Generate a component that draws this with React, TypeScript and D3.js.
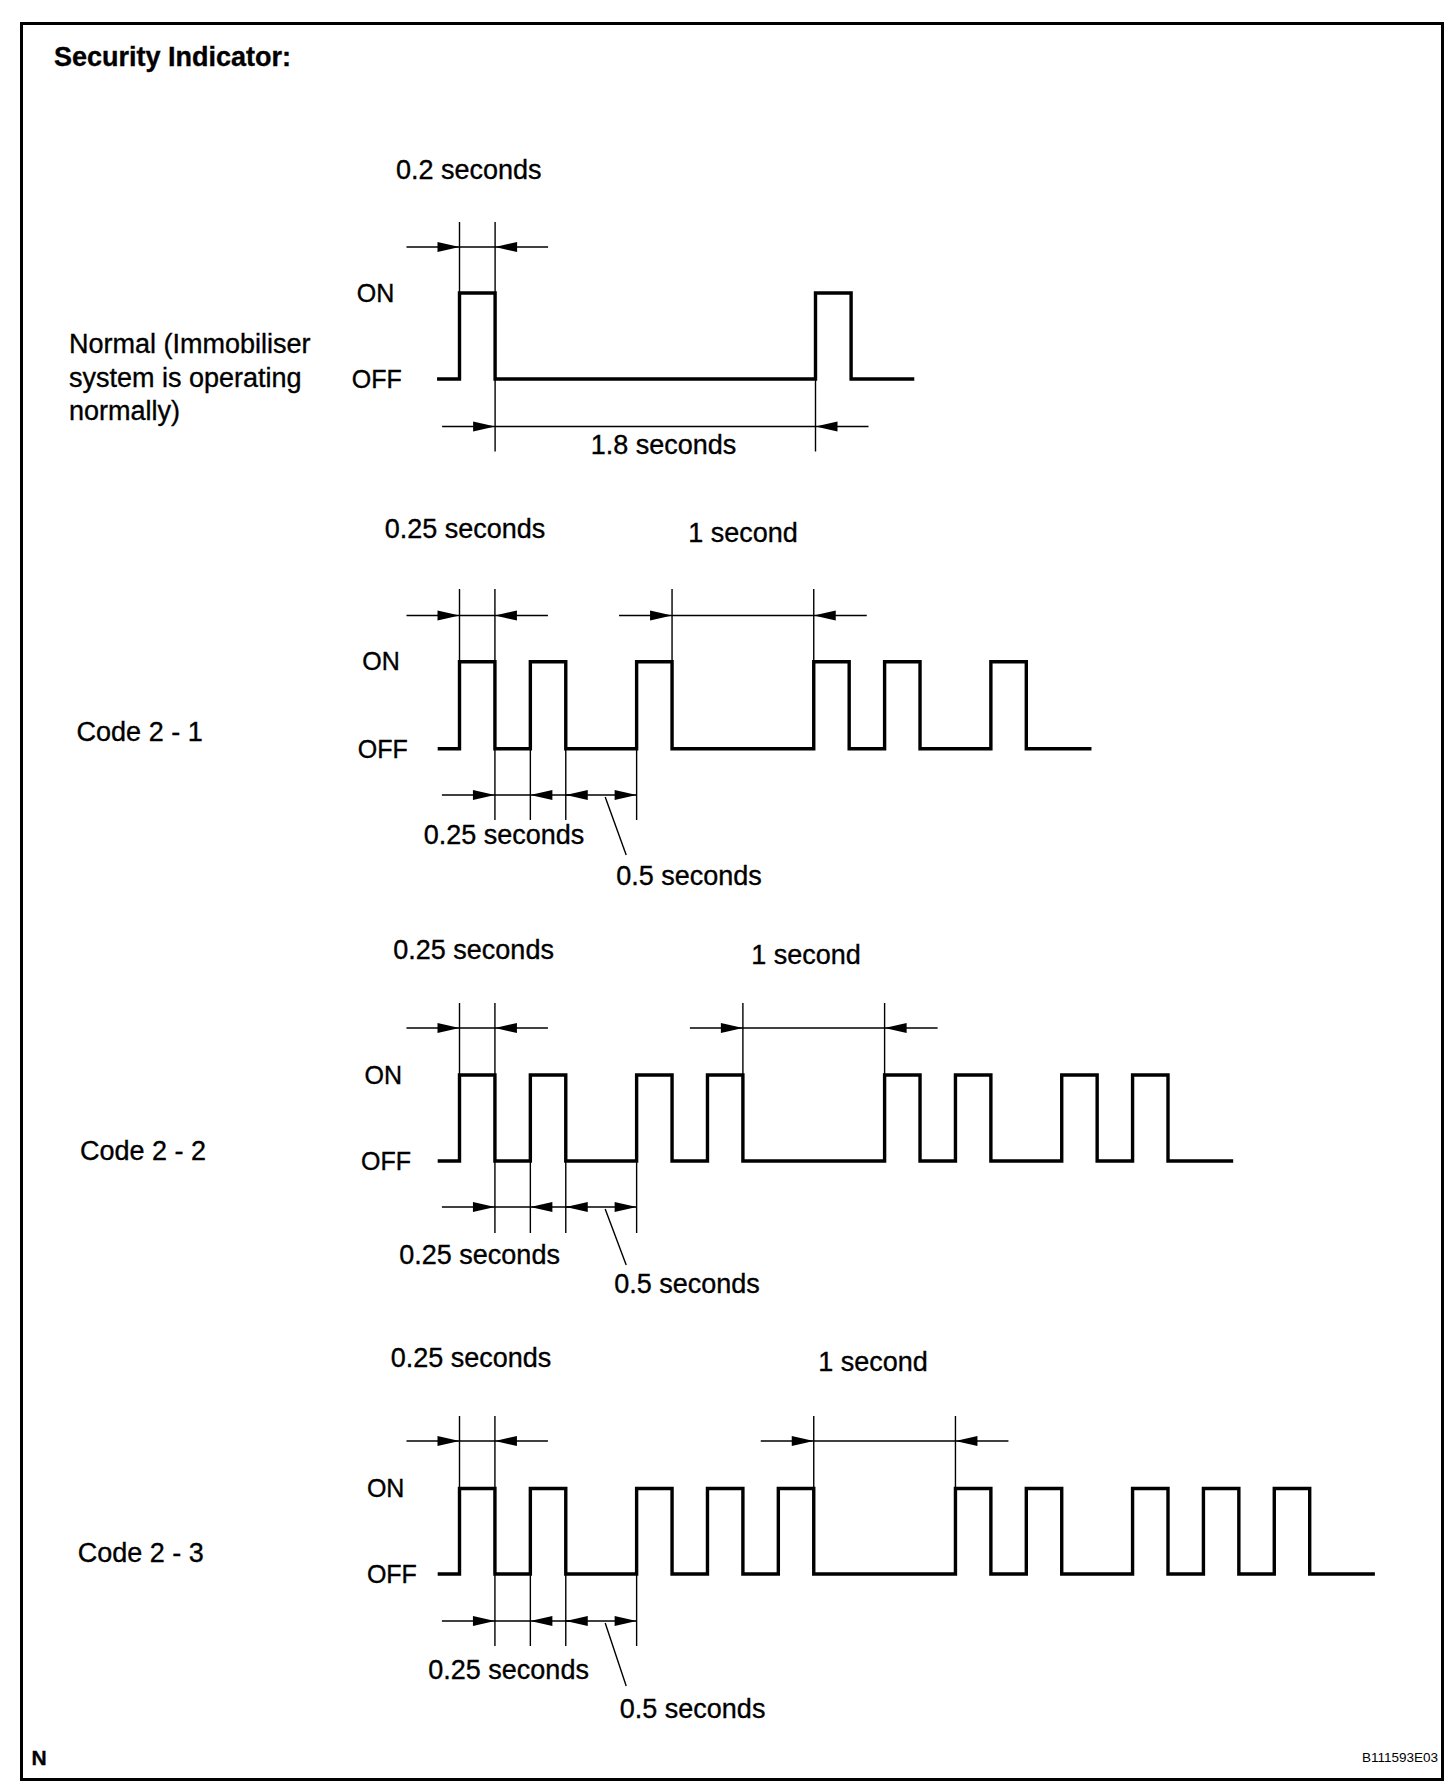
import React from "react";
import * as d3 from "d3";

// ---------- data ----------
const titleText = "Security Indicator:";
const rowLabels = [
  ["Normal (Immobiliser", "system is operating", "normally)"],
  ["Code 2 - 1"],
  ["Code 2 - 2"],
  ["Code 2 - 3"],
];
const levelLabels = ["ON", "OFF"];

// pulses (seconds): [rise, fall]
const normalPulses: [number, number][] = [[0, 0.2], [2.0, 2.2]];
const code21Pulses: [number, number][] = [[0, 0.25], [0.5, 0.75], [1.25, 1.5], [2.5, 2.75], [3.0, 3.25], [3.75, 4.0]];
const code22Pulses: [number, number][] = [[0, 0.25], [0.5, 0.75], [1.25, 1.5], [1.75, 2.0], [3.0, 3.25], [3.5, 3.75], [4.25, 4.5], [4.75, 5.0]];
const code23Pulses: [number, number][] = [[0, 0.25], [0.5, 0.75], [1.25, 1.5], [1.75, 2.0], [2.25, 2.5], [3.5, 3.75], [4.0, 4.25], [4.75, 5.0], [5.25, 5.5], [5.75, 6.0]];
const allPulses = [normalPulses, code21Pulses, code22Pulses, code23Pulses];

// trace extents (seconds)
const traceStart = [-0.126, -0.154, -0.154, -0.154];
const traceEnd = [2.555, 4.46, 5.46, 6.46];

// dimension annotations (seconds)
type Dim = { t0: number; t1: number; label: string; arrows: "in" | "out"; leader?: boolean };
const topDims: Dim[][] = [
  [{ t0: 0, t1: 0.2, label: "0.2 seconds", arrows: "in" }],
  [{ t0: 0, t1: 0.25, label: "0.25 seconds", arrows: "in" }, { t0: 1.5, t1: 2.5, label: "1 second", arrows: "in" }],
  [{ t0: 0, t1: 0.25, label: "0.25 seconds", arrows: "in" }, { t0: 2.0, t1: 3.0, label: "1 second", arrows: "in" }],
  [{ t0: 0, t1: 0.25, label: "0.25 seconds", arrows: "in" }, { t0: 2.5, t1: 3.5, label: "1 second", arrows: "in" }],
];
const bottomDims: Dim[][] = [
  [{ t0: 0.2, t1: 2.0, label: "1.8 seconds", arrows: "in" }],
  [{ t0: 0.25, t1: 0.5, label: "0.25 seconds", arrows: "in" }, { t0: 0.75, t1: 1.25, label: "0.5 seconds", arrows: "out", leader: true }],
  [{ t0: 0.25, t1: 0.5, label: "0.25 seconds", arrows: "in" }, { t0: 0.75, t1: 1.25, label: "0.5 seconds", arrows: "out", leader: true }],
  [{ t0: 0.25, t1: 0.5, label: "0.25 seconds", arrows: "in" }, { t0: 0.75, t1: 1.25, label: "0.5 seconds", arrows: "out", leader: true }],
];
const footerLeft = "N";
const footerRight = "B111593E03";

// ---------- layout (pixels) ----------
const W = 1456;
const H = 1792;
const X0 = 459.5;
const pxPerSec = [178, 141.7, 141.7, 141.7];
const layout = [
  { on: 293, off: 379, topDim: 247, extTop: 222, botDim: 426.5, extBot: 451.5,
    topLabel: [[468.7, 179]], botLabel: [[663.5, 453.5]], onX: 356.7, offX: 351.7,
    rowX: 69, rowY: [353, 386.5, 419.5], leaderLen: 0 },
  { on: 661.7, off: 748.8, topDim: 615.5, extTop: 589, botDim: 795, extBot: 820,
    topLabel: [[465, 538], [743, 542]], botLabel: [[504, 844], [689, 885]], onX: 362.3, offX: 357.7,
    rowX: 76.6, rowY: [741], leaderLen: 60 },
  { on: 1075, off: 1161, topDim: 1028, extTop: 1003, botDim: 1207, extBot: 1233,
    topLabel: [[473.6, 959], [806, 964]], botLabel: [[479.6, 1264], [687, 1293]], onX: 364.6, offX: 361,
    rowX: 80, rowY: [1159.5], leaderLen: 58 },
  { on: 1488.5, off: 1574, topDim: 1441, extTop: 1416, botDim: 1621, extBot: 1646,
    topLabel: [[471, 1367], [873, 1370.5]], botLabel: [[508.6, 1678.5], [692.6, 1718]], onX: 366.9, offX: 366.9,
    rowX: 77.7, rowY: [1561.8], leaderLen: 65 },
];
const OVERHANG = 53;
const ARROW_L = 22;
const ARROW_HW = 5;
const FONT = "'Liberation Sans', Arial, Helvetica, sans-serif";
const TXT = { fontFamily: FONT, fill: "#000", stroke: "#000", strokeWidth: 0.35 } as const;

function arrow(tipX: number, y: number, dir: 1 | -1) {
  // dir 1: pointing right (body on left)
  const bx = tipX - dir * ARROW_L;
  return `M${tipX},${y}L${bx},${y - ARROW_HW}L${bx},${y + ARROW_HW}Z`;
}

function Row({ i }: { i: number }) {
  const L = layout[i];
  const x = d3.scaleLinear().domain([0, 1]).range([X0, X0 + pxPerSec[i]]);
  const y = d3.scaleOrdinal<number, number>().domain([0, 1]).range([L.off, L.on]);

  const pts: [number, number][] = [[traceStart[i], 0]];
  allPulses[i].forEach(([a, b]) => {
    pts.push([a, 1]);
    pts.push([b, 0]);
  });
  pts.push([traceEnd[i], 0]);
  const line = d3
    .line<[number, number]>()
    .x((d) => x(d[0]))
    .y((d) => y(d[1]))
    .curve(d3.curveStepAfter);

  const renderDim = (d: Dim, k: number, top: boolean) => {
    const xa = x(d.t0);
    const xb = x(d.t1);
    const dy = top ? L.topDim : L.botDim;
    const els: React.ReactNode[] = [];
    [xa, xb].forEach((ex, j) => {
      els.push(
        <line key={`e${j}`} x1={ex} x2={ex} y1={top ? L.extTop : L.off} y2={top ? L.on : L.extBot}
          stroke="#000" strokeWidth={1.4} />
      );
    });
    if (d.arrows === "in") {
      els.push(<line key="l" x1={xa - OVERHANG} x2={xb + OVERHANG} y1={dy} y2={dy} stroke="#000" strokeWidth={1.6} />);
      els.push(<path key="a1" d={arrow(xa, dy, 1)} fill="#000" />);
      els.push(<path key="a2" d={arrow(xb, dy, -1)} fill="#000" />);
    } else {
      els.push(<line key="l" x1={xa} x2={xb} y1={dy} y2={dy} stroke="#000" strokeWidth={1.6} />);
      els.push(<path key="a1" d={arrow(xa, dy, -1)} fill="#000" />);
      els.push(<path key="a2" d={arrow(xb, dy, 1)} fill="#000" />);
    }
    if (d.leader) {
      const mx = (xa + xb) / 2 + 4;
      els.push(<line key="ld" x1={mx} y1={dy + 2} x2={mx + 21} y2={dy + L.leaderLen} stroke="#000" strokeWidth={1.4} />);
    }
    const lp = top ? L.topLabel[k] : L.botLabel[k];
    els.push(
      <text key="t" x={lp[0]} y={lp[1]} textAnchor="middle" fontSize={27} {...TXT}>{d.label}</text>
    );
    return <g key={`${top ? "t" : "b"}${k}`}>{els}</g>;
  };

  return (
    <g>
      {rowLabels[i].map((s, k) => (
        <text key={k} x={L.rowX} y={L.rowY[k]} fontSize={27} {...TXT}>{s}</text>
      ))}
      <text x={L.onX} y={L.on + 8.5} fontSize={25} {...TXT}>{levelLabels[0]}</text>
      <text x={L.offX} y={L.off + 9} fontSize={25} {...TXT}>{levelLabels[1]}</text>
      {topDims[i].map((d, k) => renderDim(d, k, true))}
      {bottomDims[i].map((d, k) => renderDim(d, k, false))}
      <path d={line(pts) || ""} fill="none" stroke="#000" strokeWidth={3.4} strokeLinejoin="miter" strokeLinecap="butt" />
    </g>
  );
}

export default function App() {
  return (
    <svg width={W} height={H} style={{ position: "absolute", left: 0, top: 0, background: "#fff" }}>
      <rect x={0} y={0} width={W} height={H} fill="#fff" />
      <rect x={21.5} y={23.5} width={1421} height={1756} fill="none" stroke="#000" strokeWidth={3} />
      <text x={54} y={66} fontSize={27} fontWeight="bold" {...TXT}>{titleText}</text>
      {[0, 1, 2, 3].map((i) => <Row key={i} i={i} />)}
      <text x={31.5} y={1765} fontSize={21} fontWeight="bold" {...TXT}>{footerLeft}</text>
      <text x={1438} y={1762} fontSize={13.5} textAnchor="end" fontFamily={FONT} fill="#000">{footerRight}</text>
    </svg>
  );
}
